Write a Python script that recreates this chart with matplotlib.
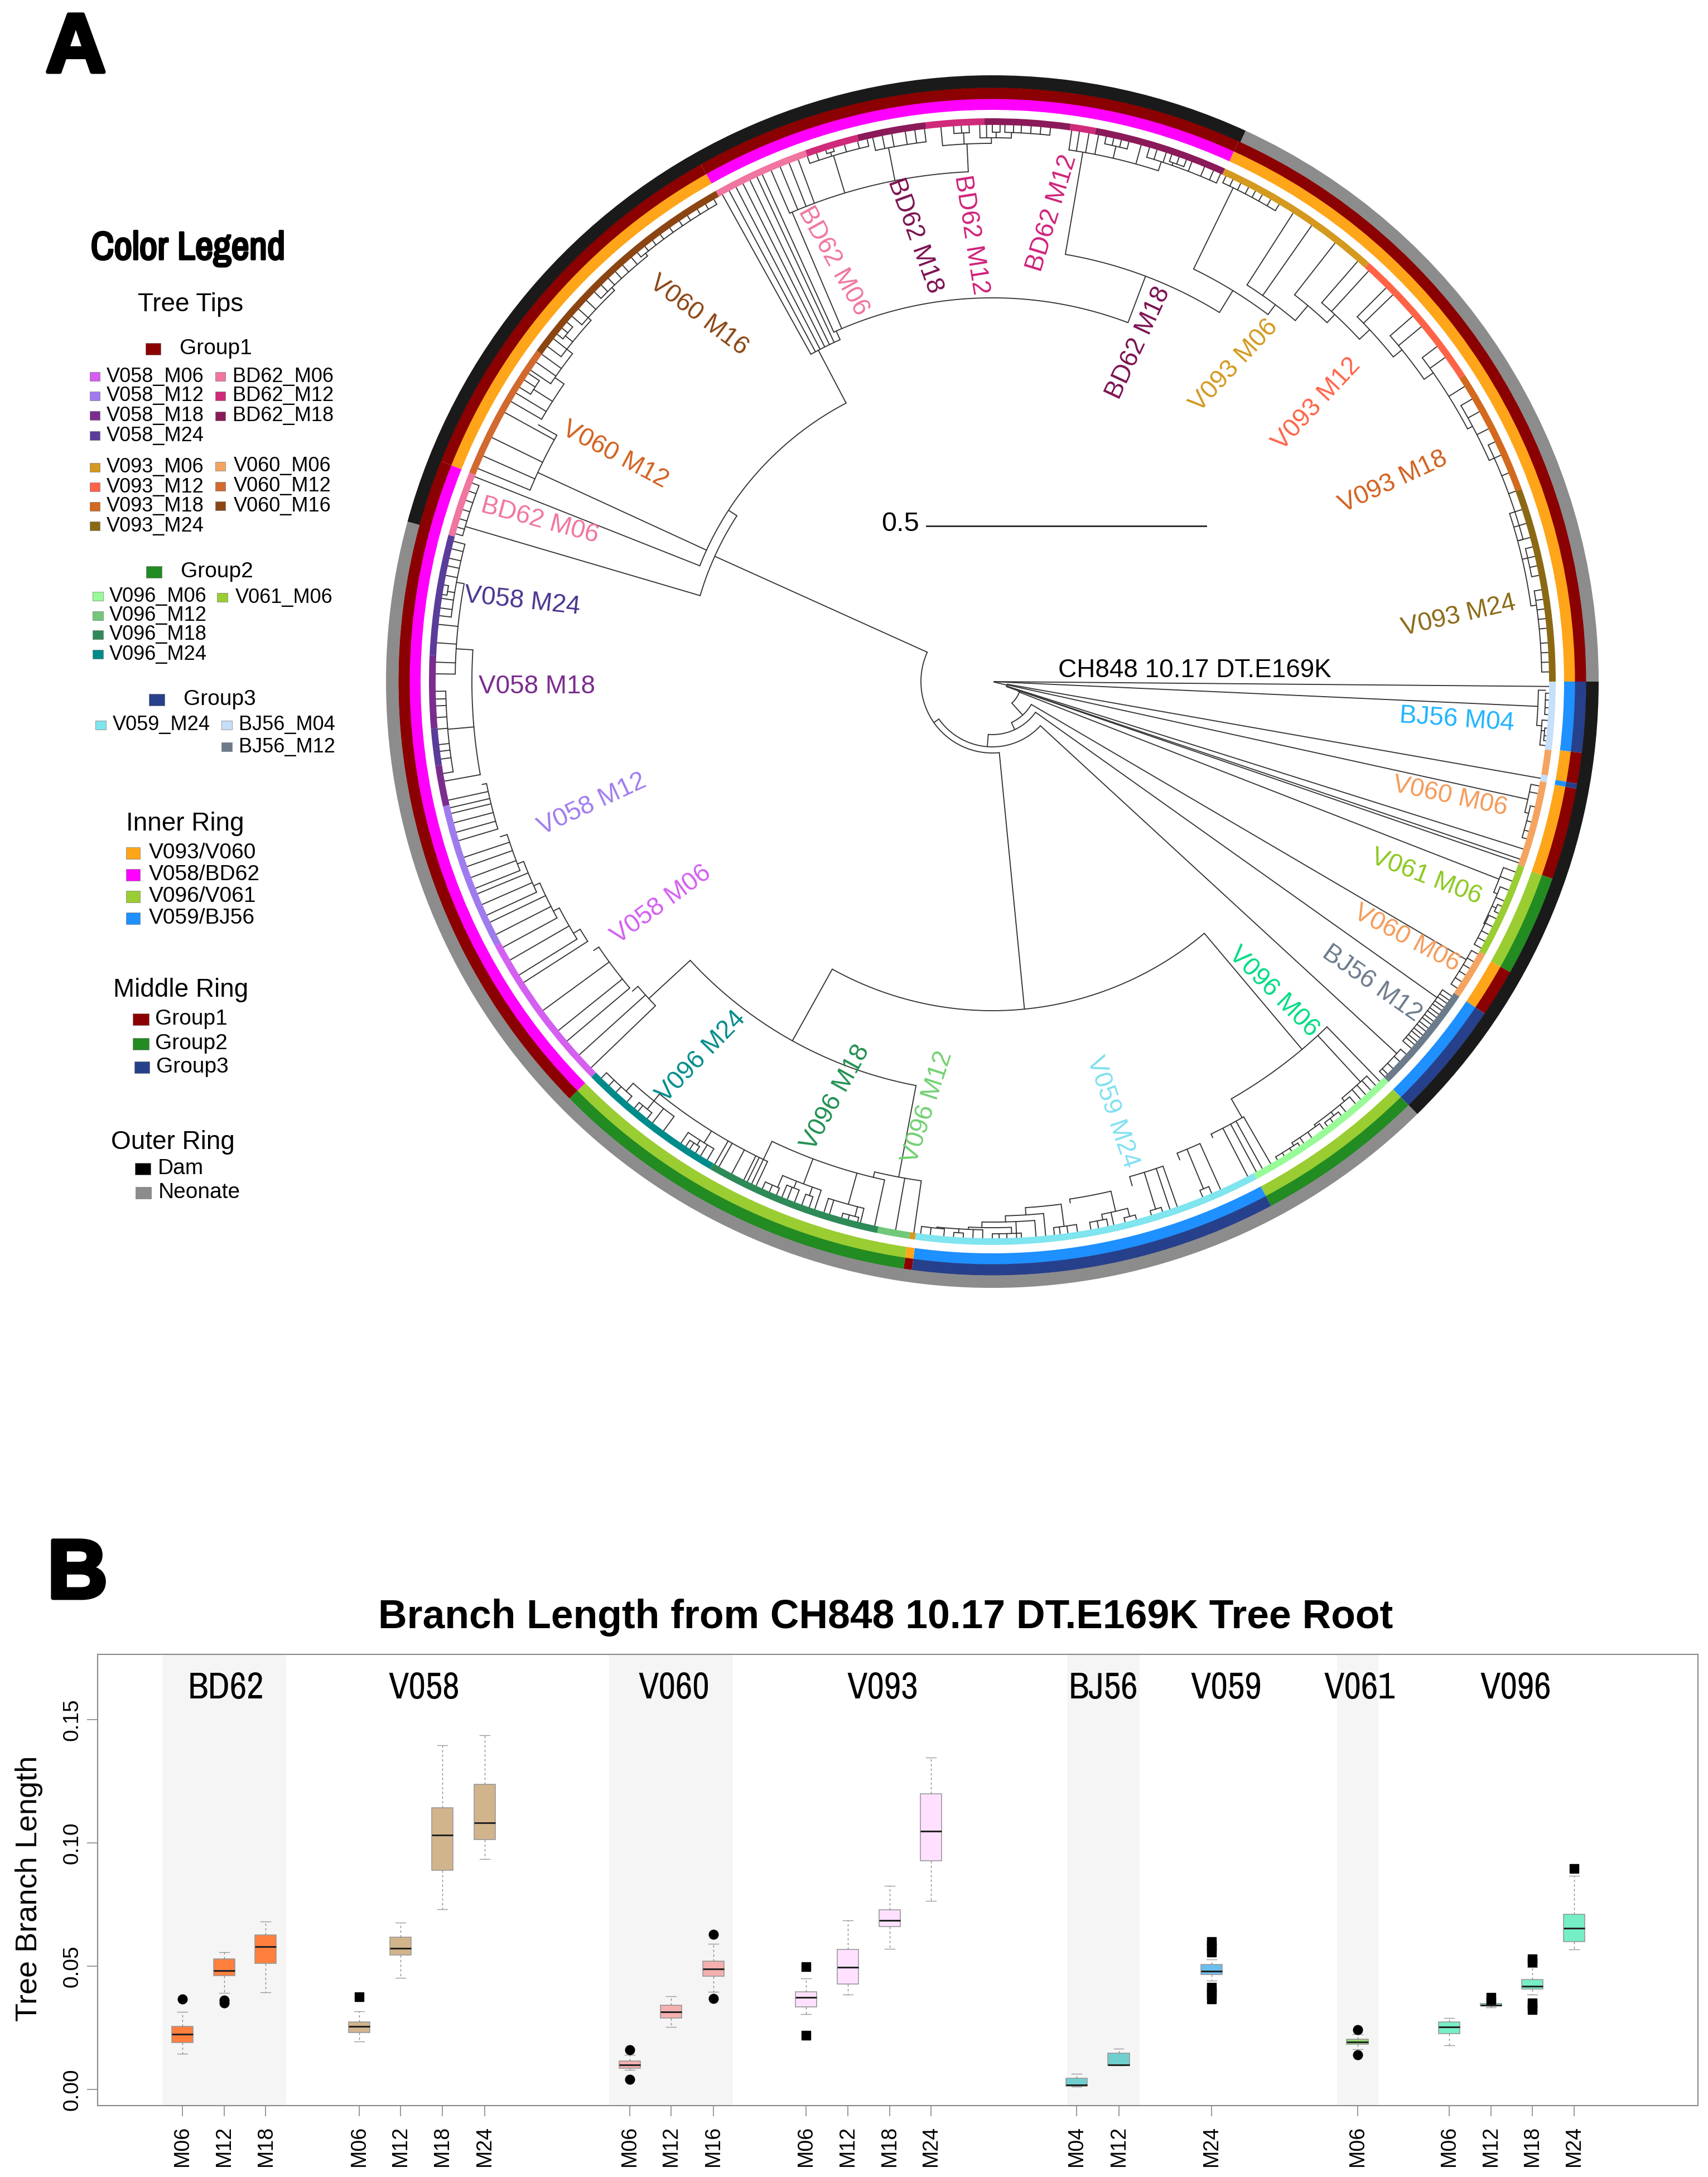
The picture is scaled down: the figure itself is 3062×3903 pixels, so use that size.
import numpy as np
import matplotlib
matplotlib.use('Agg')
import matplotlib.pyplot as plt
from matplotlib import font_manager
from matplotlib.patches import Rectangle
import matplotlib.patheffects as pe

plt.rcParams['font.family'] = ['Liberation Sans', 'DejaVu Sans']

# condensed face for the panel headers when one is installed
narrow_names = sorted({f.name for f in font_manager.fontManager.ttflist
                       if 'Narrow' in f.name or 'Condensed' in f.name})
if narrow_names:
    NARROW = [narrow_names[0], 'Liberation Sans']
    GROUP_SIZE, HEAD_SIZE = 48, 51
else:
    NARROW = ['Liberation Sans', 'DejaVu Sans']
    GROUP_SIZE, HEAD_SIZE = 40, 40

# ---- ring sectors, angles clockwise from east (deg) ----
inner_edges = [0, 6.9, 9.9, 10.4, 19.4, 29.3, 34.0, 45.5, 62.0, 97.8, 98.6, 135.4, 201.8, 240.6, 294.5, 360]
inner_colors = ['#1E90FF', '#FFA519', '#1E90FF', '#FFA519', '#9ACD32', '#FFA519', '#1E90FF', '#9ACD32',
                '#1E90FF', '#FFA519', '#9ACD32', '#FF00FF', '#FFA519', '#FF00FF', '#FFA519']
middle_colors = ['#27408B', '#8B0000', '#27408B', '#8B0000', '#228B22', '#8B0000', '#27408B', '#228B22',
                 '#27408B', '#8B0000', '#228B22', '#8B0000', '#8B0000', '#8B0000', '#8B0000']
outer_edges = [0, 45.5, 195.3, 294.7, 360]
outer_colors = ['#1A1A1A', '#8C8C8C', '#1A1A1A', '#8C8C8C']
tip_edges = [0, 7.0, 9.6, 10.3, 19.2, 29.0, 34.0, 45.3, 62.0, 97.9, 98.5, 101.8, 120.1, 135.4, 152, 167.2,
             171.4, 175.2, 182.7, 195.1, 201.8, 216, 240.6, 250.6, 256.1, 263.2, 269.2, 278, 280.6, 294.4,
             312, 327, 340, 360]
tip_colors = ['#C6DFFA', '#F4A460', '#C6DFFA', '#F4A460', '#9ACD32', '#F4A460', '#6C7B8B', '#98FB98',
              '#7FE5EE', '#D4991E', '#70C878', '#2E8B57', '#008B8B', '#D45FF0', '#A07BEE', '#7B2D8E',
              '#5A3D9A', '#7B2D8E', '#5A3D9A', '#F075A0', '#D2692F', '#8B4513', '#F075A0', '#D02A7A',
              '#8B1A5A', '#D02A7A', '#8B1A5A', '#D02A7A', '#8B1A5A', '#D4991E', '#FF6347', '#D2691E',
              '#8B6914']

# ---- tree: (node depth, [(child angle, child depth), ...]), 1000 depth = 1 subst/site ----
T = 1000
tree = [
    (3, [(0.5, T), (2.6, 979), (13.7, 27)]),
    (27, [(10, T), (12.4, 983), (17.5, T), (18.6, T), (19.5, 49)]),
    (49, [(19, T), (20.5, 52)]),
    (52, [(21.3, 975), (47.8, 81)]),
    (81, [(30.4, 985), (65, 95)]),
    (95, [(35.4, 978), (94.4, 117)]),
    (117, [(42.6, 985), (145, 128)]),
    (128, [(84.4, 590), (204.3, 546)]),
    (979, [(0.9, 992), (4.6, 988)]),
    (992, [(1.2, T), (1.9, T), (2.7, T), (3.4, T)]),
    (988, [(4.0, T), (5.1, 994), (6.6, T)]),
    (994, [(4.8, T), (5.6, T), (6.1, T)]),
    (983, [(10.8, T), (11.6, T), (13.8, 990)]),
    (990, [(13.0, T), (14.6, T), (15.6, T), (16.4, T)]),
    (975, [(20.0, T), (21, T), (22.8, 982)]),
    (982, [(22.0, T), (23.2, T), (24.2, 990), (26.2, 984)]),
    (990, [(23.8, T), (24.6, T)]),
    (984, [(25.2, T), (26.1, T), (27, T), (27.8, T), (28.6, T)]),
    (985, [(29.3, T), (30.2, T), (31, T), (31.8, T), (32.6, T), (33.4, T)]),
    (978, [(34.4, T), (34.9, T), (35.3, T), (35.8, T), (36.2, T), (36.7, T), (37.1, T), (37.6, T),
           (38.0, T), (38.5, T), (38.9, T), (39.4, T), (39.8, T), (40.3, T), (40.7, T), (41.2, T)]),
    (985, [(42, T), (43, T), (44, T), (44.8, T), (45.2, T)]),
    (590, [(49.9, 862), (119.1, 737)]),
    (862, [(45.9, T), (47.4, 975), (60.2, 901)]),
    (975, [(46.5, T), (47.2, T), (47.9, T), (48.6, T), (50, 982)]),
    (982, [(49.3, T), (50.6, T), (51.8, 990), (54, 986)]),
    (990, [(51.2, T), (52.3, T), (53, T)]),
    (986, [(53.5, T), (55, T), (56, T), (57, 992)]),
    (992, [(56.5, T), (57.5, T), (58.4, T), (59.2, T)]),
    (901, [(60.0, T), (61, T), (61.7, T), (62.7, T), (64.2, 908)]),
    (908, [(65.8, T), (67.4, 985), (68.6, 921)]),
    (985, [(66.8, T), (67.8, T)]),
    (921, [(70.6, T), (71.4, T), (72.8, 990), (74.5, 938)]),
    (990, [(72.2, T), (73.4, T)]),
    (938, [(76.9, 975), (81.5, 945)]),
    (975, [(75.6, 990), (77.4, T), (78.4, 985)]),
    (990, [(75, T), (76.2, T)]),
    (985, [(78, T), (79, T), (79.8, T)]),
    (945, [(82.5, 985), (86.4, 958)]),
    (985, [(81.2, T), (82.2, T), (83, T), (83.6, T)]),
    (958, [(84.5, T), (88.6, 969)]),
    (969, [(85.5, T), (87.5, T), (91.1, 979)]),
    (979, [(88, 990), (92.5, 983)]),
    (990, [(87, T), (88.5, T), (89.3, T), (90, T)]),
    (983, [(91, T), (92, T), (93.5, 990), (95.8, 985)]),
    (990, [(93, T), (94, T)]),
    (985, [(95, T), (96.4, T), (97.4, T)]),
    (737, [(100.7, 904), (137.3, 838)]),
    (904, [(98.1, T), (100, T), (103.5, 914)]),
    (914, [(102.2, T), (105.4, 972), (110.6, 962), (115.6, 950)]),
    (962, [(108.6, T), (109.6, 978), (111.4, 975), (113, 985)]),
    (978, [(109.2, T), (110, T)]),
    (975, [(110.8, T), (111.6, T), (112.2, T)]),
    (985, [(112.8, T), (113.6, T), (114.4, T)]),
    (972, [(103.7, T), (104.4, 990), (107, T), (107.6, T)]),
    (990, [(104, T), (105, T), (105.7, T)]),
    (950, [(115.1, T), (115.6, T), (116.1, T), (116.5, T), (117.9, T), (119.4, T), (119.9, T), (122, 975), (128.9, 966)]),
    (975, [(120.8, T), (121.6, T), (122.5, 985), (124, T)]),
    (985, [(122.2, T), (122.9, T), (123.4, T)]),
    (966, [(126.2, T), (127.6, T), (128.9, 985), (131.8, 985)]),
    (985, [(128.3, T), (129.5, T), (130, T)]),
    (985, [(131, T), (132.5, T), (133.5, T), (134.6, T)]),
    (838, [(136.1, T), (137.9, T), (139.3, 851)]),
    (851, [(139.8, T), (141.2, T), (143.8, T), (146, 862)]),
    (862, [(147.3, T), (149, 876)]),
    (876, [(148.2, T), (150, T), (152.4, 888)]),
    (888, [(151.5, T), (153, T), (154.4, T), (156, 900)]),
    (900, [(155.2, T), (156.4, T), (157.6, T), (159, 912)]),
    (912, [(158.2, T), (159.4, T), (160.6, T), (161.6, T), (162.5, 925)]),
    (925, [(163.4, T), (164.3, T), (165.3, T), (166.3, T), (166.9, T), (167.7, T), (168.6, 933)]),
    (933, [(169.7, T), (175, 980), (183.5, 963)]),
    (980, [(170.5, T), (172, T), (172.8, T), (173.5, T), (175.1, T), (176.3, T), (177.5, T), (178.2, T), (179, T)]),
    (963, [(180.8, T), (182, T), (184, T), (185.9, T), (190.5, 977)]),
    (977, [(186.8, T), (187.6, T), (188.6, T), (189.4, 990), (191, T), (192, T), (192.8, T), (193.8, T), (194.6, T)]),
    (990, [(189, T), (190, T)]),
    (546, [(196.4, 985), (213, 564)]),
    (985, [(195.4, T), (196.1, T), (197, T), (198, T), (199, T), (200, T), (200.9, T)]),
    (564, [(201.6, T), (204.7, 897), (242.3, 671)]),
    (897, [(202.5, T), (203.9, T), (206, T), (208.9, T), (209.5, 935)]),
    (935, [(210.2, T), (211.2, T), (212.5, 975), (214.8, 955)]),
    (975, [(211.9, T), (212.8, T), (213.6, T)]),
    (955, [(214, T), (215, T), (216, T), (218, 968)]),
    (968, [(217, T), (218, T), (219, 985), (222, 975)]),
    (985, [(218.6, T), (219.4, T), (220.2, T)]),
    (975, [(221, T), (222, T), (223.2, T), (226, 982)]),
    (982, [(224.4, T), (225.4, T), (226.4, T), (227.4, T), (228.4, T), (229.6, T), (231, 988)]),
    (988, [(230.4, T), (231.4, T), (232.4, T), (233.4, T), (234.6, T), (235.8, T), (236.8, T), (238, T), (239, T), (240, T)]),
    (671, [(241, T), (241.8, T), (242.6, T), (243.4, T), (244.2, T), (245, T), (246, 688)]),
    (688, [(245.6, T), (246.9, 915), (290.7, 777)]),
    (915, [(246.6, T), (247.6, T), (248.6, T), (249.6, T), (253.2, 985), (259, 975), (267.3, 965)]),
    (985, [(250.6, T), (251.6, T), (253, 992), (254.6, T), (256, T), (257, T)]),
    (992, [(252.6, T), (253.4, T)]),
    (975, [(257.6, T), (258.6, T), (259.6, T), (261, T), (262, T), (263, T)]),
    (965, [(264.7, T), (267, 985), (269.9, 975)]),
    (985, [(266, T), (266.8, T), (267.6, T)]),
    (975, [(268.7, T), (269.4, T), (270.4, 985), (272, 985)]),
    (985, [(270, T), (270.8, T)]),
    (985, [(271.3, T), (272.2, T), (273, T), (274, T), (275, T), (276, T)]),
    (777, [(279.7, 963), (301.6, 823)]),
    (963, [(278.2, T), (279, T), (280, T), (281, T), (283, 985), (285.5, T), (288, 980)]),
    (985, [(281.8, T), (282.6, T), (283.4, T), (284.2, T)]),
    (980, [(286.4, T), (287.2, T), (288.2, T), (289.2, 985), (291, T), (292.4, T), (293.4, T), (294.2, T)]),
    (985, [(288.8, T), (289.6, T), (290.4, T)]),
    (823, [(296, 985), (306.9, 845)]),
    (985, [(294.8, T), (295.6, T), (296.5, T), (297.4, T), (298.2, T), (299, T), (300, T), (301, T)]),
    (845, [(302.7, T), (305, T), (310, 880)]),
    (880, [(308, T), (313, 900)]),
    (900, [(311, T), (312.5, T), (317, 925)]),
    (925, [(315, T), (316, T), (321, 945)]),
    (945, [(319, T), (320.4, T), (325, 965)]),
    (965, [(323, T), (324.4, T), (328, T), (332, 975)]),
    (975, [(329.5, T), (331, T), (333, T), (336, 985)]),
    (985, [(334.5, T), (336, T), (338, T), (340, T), (345, 975)]),
    (975, [(342, T), (343.5, T), (345, T), (347, 985), (352, 985)]),
    (985, [(346, T), (347, T), (348, T), (349, T)]),
    (985, [(350.5, T), (351.5, T), (352.5, T), (353.5, T), (354.5, T), (356, T), (357, T), (358, T), (359, T)]),
]

# ---- labels on the tree ----
tree_labels = ['BD62 M06', 'BD62 M18', 'BD62 M12', 'BD62 M12', 'BD62 M18', 'V093 M06', 'V093 M12', 'V093 M18',
               'V093 M24', 'BJ56 M04', 'V060 M06', 'V061 M06', 'V060 M06', 'BJ56 M12', 'V096 M06', 'V059 M24',
               'V096 M12', 'V096 M18', 'V096 M24', 'V058 M06', 'V058 M12', 'V058 M18', 'V058 M24', 'BD62 M06',
               'V060 M12', 'V060 M16']
tree_label_colors = ['#F075A0', '#7A1050', '#D0207A', '#D0207A', '#7A1050', '#D4991E', '#FF6347', '#D2601E',
                     '#8B6914', '#1EB4FF', '#F49B5A', '#8CC820', '#F49B5A', '#6C7B8B', '#00DC82', '#80E0F0',
                     '#70D070', '#1F8F50', '#008B8B', '#D45FF0', '#A07BEE', '#7B2D8E', '#4B3390', '#F075A0',
                     '#D2601E', '#8B4513']
tree_label_x = [1494, 1640, 1741, 1886, 2041, 2212, 2360, 2498, 2615, 2612, 2600, 2557, 2522, 2459, 2283, 1994,
                1663, 1498, 1257, 1185, 1062, 963, 936, 968, 1103, 1253]
tree_label_y = [468, 423, 421, 382, 615, 655, 724, 864, 1104, 1290, 1428, 1572, 1682, 1763, 1778, 1994,
                1985, 1968, 1895, 1622, 1442, 1231, 1078, 933, 815, 565]
tree_label_rot = [-61, -70, -81, 73, 65, 47, 47, 25, 13, -4, -12, -21, -28, -35, -45, -71,
                  72, 61, 46, 36, 25, 0, -6, -15, -28, -37]

# ---- legend entries: label, colour, swatch x0, x1, y centre, text x ----
legend_heads = ['Tree Tips', 'Inner Ring', 'Middle Ring', 'Outer Ring']
legend_head_x = [342, 332, 324, 310]
legend_head_y = [546, 1477, 1775, 2048]
big_swatches = [('Group1', '#8B0000', 261, 288, 625, 322), ('Group2', '#228B22', 262, 290, 1025, 324),
                ('Group3', '#27408B', 267, 295, 1254, 329),
                ('Group1', '#8B0000', 238, 267, 1827, 278), ('Group2', '#228B22', 238, 267, 1871, 278),
                ('Group3', '#27408B', 241, 268, 1913, 280),
                ('Dam', '#000000', 242, 270, 2095, 283), ('Neonate', '#8C8C8C', 243, 271, 2138, 284),
                ('V093/V060', '#FFA519', 226, 251, 1529, 267), ('V058/BD62', '#FF00FF', 226, 251, 1568, 267),
                ('V096/V061', '#9ACD32', 226, 251, 1607, 267), ('V059/BJ56', '#1E90FF', 226, 251, 1646, 267)]
small_swatches = [('V058_M06', '#D45FF0', 161, 179, 675, 191), ('V058_M12', '#A07BEE', 161, 179, 710, 191),
                  ('V058_M18', '#7B2D8E', 161, 179, 745, 191), ('V058_M24', '#5A3D9A', 161, 179, 781, 191),
                  ('BD62_M06', '#F075A0', 386, 404, 675, 417), ('BD62_M12', '#D02A7A', 386, 404, 710, 417),
                  ('BD62_M18', '#8B1A5A', 386, 404, 746, 417),
                  ('V093_M06', '#D4991E', 161, 179, 838, 191), ('V093_M12', '#FF6347', 161, 179, 873, 191),
                  ('V093_M18', '#D2691E', 161, 179, 908, 191), ('V093_M24', '#8B6914', 161, 179, 943, 191),
                  ('V060_M06', '#F4A460', 386, 404, 836, 419), ('V060_M12', '#D2692F', 386, 404, 872, 419),
                  ('V060_M16', '#8B4513', 386, 404, 907, 419),
                  ('V096_M06', '#98FB98', 166, 185, 1069, 196), ('V096_M12', '#70C878', 166, 185, 1104, 196),
                  ('V096_M18', '#2E8B57', 166, 185, 1138, 196), ('V096_M24', '#008B8B', 166, 185, 1173, 196),
                  ('V061_M06', '#9ACD32', 389, 408, 1071, 422),
                  ('V059_M24', '#7FE5EE', 171, 190, 1300, 202), ('BJ56_M04', '#C6DFFA', 397, 416, 1300, 428),
                  ('BJ56_M12', '#6C7B8B', 397, 416, 1339, 428)]

# ---- panel B values ----
box_months = ['M06', 'M12', 'M18', 'M06', 'M12', 'M18', 'M24', 'M06', 'M12', 'M16', 'M06', 'M12', 'M18', 'M24',
              'M04', 'M12', 'M24', 'M06', 'M06', 'M12', 'M18', 'M24']
box_x = [0, 1, 2, 4.24, 5.23, 6.24, 7.25, 10.74, 11.73, 12.74, 14.97, 15.97, 16.97, 17.96,
         21.46, 22.47, 24.7, 28.2, 30.4, 31.4, 32.4, 33.4]
whislo = [.0145, .039, .0394, .0195, .0453, .0731, .0934, .0078, .0252, .0395, .0306, .0384, .0570, .0765,
          .0010, .0096, .0440, .0162, .0179, .0332, .0385, .0567]
q1 = [.0190, .0461, .0511, .0231, .0544, .0889, .1013, .0085, .0289, .0458, .0334, .0428, .0661, .0926,
      .0014, .0096, .0465, .0182, .0226, .0339, .0406, .0600]
med = [.0223, .0482, .0578, .0255, .0573, .1032, .1080, .0099, .0315, .0489, .0373, .0495, .0684, .1046,
       .0018, .0099, .0480, .0193, .0253, .0341, .0417, .0654]
q3 = [.0255, .0528, .0626, .0273, .0618, .1141, .1237, .0114, .0341, .0519, .0395, .0567, .0729, .1199,
      .0045, .0146, .0506, .0204, .0273, .0347, .0445, .0709]
whishi = [.0315, .0557, .0680, .0317, .0676, .1396, .1437, .0140, .0377, .0590, .0449, .0684, .0826, .1346,
          .0062, .0165, .0526, .0223, .0289, .0350, .0495, .0867]
fliers = [[.0366], [.0350, .0362], [], [.0376], [], [], [], [.0161, .0041], [], [.0629, .0369],
          [.0498, .0219], [], [], [], [], [], [.0599, .0585, .0572, .0557, .0413, .0400, .0385, .0365],
          [.0241, .0139], [], [.0372, .0358], [.0530, .0516, .0351, .0337, .0323], [.0895]]
box_colors = ['#FF7F3F'] * 3 + ['#D2B48C'] * 4 + ['#F4AFAF'] * 3 + ['#FFE1FF'] * 4 + ['#6FCFCF'] * 2 + \
             ['#6CBEF0'] + ['#8FD870'] + ['#76EEC6'] * 4
flier_marks = ['o'] * 3 + ['s'] * 4 + ['o'] * 3 + ['s'] * 4 + ['s'] * 2 + ['s'] + ['o'] + ['s'] * 4
group_names = ['BD62', 'V058', 'V060', 'V093', 'BJ56', 'V059', 'V061', 'V096']
group_label_x = [1.05, 5.8, 11.8, 16.8, 22.1, 25.05, 28.25, 32.0]
shade_from = [-0.48, 10.24, 21.23, 27.71]
shade_to = [2.49, 13.21, 22.97, 28.70]

W, H = 3062, 3903
fig = plt.figure(figsize=(W / 100, H / 100), dpi=100, facecolor='white')

# panel A, polar axes centred on the tree root
CX, CY, RMAX = 1779, 1222, 1110
pol = fig.add_axes([(CX - RMAX) / W, 1 - (CY + RMAX) / H, 2 * RMAX / W, 2 * RMAX / H], projection='polar')
pol.set_theta_zero_location('E')
pol.set_theta_direction(-1)
pol.set_rlim(0, RMAX)
pol.axis('off')

LINE = '#333333'
for depth, kids in tree:
    angs = [k[0] for k in kids]
    th = np.radians(np.linspace(min(angs), max(angs), 60))
    pol.plot(th, np.full(th.shape, depth), color=LINE, lw=1.35, solid_capstyle='round', zorder=2)
    for a, d in kids:
        pol.plot(np.radians([a, a]), [depth, d], color=LINE, lw=1.35, solid_capstyle='round', zorder=2)


def ring(edges, colors, r0, r1):
    edges = np.radians(edges)
    pol.bar(edges[:-1], r1 - r0, width=np.diff(edges), bottom=r0, color=colors, align='edge', lw=0, zorder=3)


ring(tip_edges, tip_colors, 998, 1010)
ring(inner_edges, inner_colors, 1025, 1045)
ring(inner_edges, middle_colors, 1044.5, 1065)
ring(outer_edges, outer_colors, 1064.5, 1087)

# overlay in figure pixels for text and legend
ov = fig.add_axes([0, 0, 1, 1], facecolor='none')
ov.set_xlim(0, W)
ov.set_ylim(H, 0)
ov.axis('off')

for lab, col, x, y, rot in zip(tree_labels, tree_label_colors, tree_label_x, tree_label_y, tree_label_rot):
    ov.text(x, y, lab, color=col, fontsize=33, rotation=rot, ha='center', va='center', rotation_mode='anchor')
ov.text(2142, 1202, 'CH848 10.17 DT.E169K', fontsize=33, ha='center', va='center')
ov.plot([1661, 2162], [943, 943], color='#222222', lw=2)
ov.text(1614, 940, '0.5', fontsize=35, ha='center', va='center')

for txt, x, y in [('A', 136, 90), ('B', 139, 2826)]:
    t = ov.text(x, y, txt, fontsize=108, fontweight='bold', ha='center', va='center')
    t.set_path_effects([pe.withStroke(linewidth=5, foreground='black')])

head = ov.text(337, 446, 'Color Legend', family=NARROW, fontsize=HEAD_SIZE, fontweight='bold', ha='center', va='center')
head.set_path_effects([pe.withStroke(linewidth=2.5, foreground='black')])
for txt, x, y in zip(legend_heads, legend_head_x, legend_head_y):
    ov.text(x, y, txt, fontsize=33, ha='center', va='center')
for lab, col, x0, x1, y, tx in big_swatches:
    ov.add_patch(Rectangle((x0, y - 10.5), x1 - x0, 21, fc=col, ec='#777777', lw=0.5))
    ov.text(tx, y, lab, fontsize=28, ha='left', va='center')
for lab, col, x0, x1, y, tx in small_swatches:
    ov.add_patch(Rectangle((x0, y - 8), x1 - x0, 16, fc=col, ec='#777777', lw=0.5))
    ov.text(tx, y, lab, fontsize=26, ha='left', va='center')

# panel B
BX0, BX1, BY0, BY1 = 175, 3044, 2966, 3775
bx = fig.add_axes([BX0 / W, 1 - BY1 / H, (BX1 - BX0) / W, (BY1 - BY0) / H])
bx.set_xlim((BX0 - 327) / 74.7, (BX1 - 327) / 74.7)
bx.set_ylim(-0.0066, 0.1764)
for s0, s1 in zip(shade_from, shade_to):
    bx.axvspan(s0, s1, color='#F5F5F5', lw=0, zorder=0)
for i in range(len(box_x)):
    stat = dict(whislo=whislo[i], q1=q1[i], med=med[i], q3=q3[i], whishi=whishi[i], fliers=fliers[i])
    bx.bxp([stat], positions=[box_x[i]], widths=0.51, patch_artist=True, manage_ticks=False,
           boxprops=dict(facecolor=box_colors[i], edgecolor='#999999', lw=1.2),
           medianprops=dict(color='#222222', lw=2.2, solid_capstyle='butt'),
           whiskerprops=dict(color='#888888', lw=1, ls=(0, (3, 3))),
           capprops=dict(color='#999999', lw=1), capwidths=0.24,
           flierprops=dict(marker=flier_marks[i], mfc='black', mec='black', ms=12))
for name, x in zip(group_names, group_label_x):
    bx.text(x, 0.1625, name, family=NARROW, fontsize=GROUP_SIZE, ha='center', va='center')
bx.set_xticks(box_x)
bx.set_xticklabels(box_months, rotation=90, fontsize=27)
bx.set_yticks([0, 0.05, 0.10, 0.15])
bx.set_yticklabels(['0.00', '0.05', '0.10', '0.15'], rotation=90, va='center', fontsize=28)
bx.tick_params(axis='y', color='#888888', length=14, width=1.2, pad=6)
bx.tick_params(axis='x', color='#888888', length=14, width=1.2, pad=12)
for sp in bx.spines.values():
    sp.set_color('#888888')
    sp.set_linewidth(1.5)

ov.text(1588, 2900, 'Branch Length from CH848 10.17 DT.E169K Tree Root', fontsize=51.5, fontweight='bold',
        ha='center', va='center')
ov.text(52, 3386, 'Tree Branch Length', fontsize=39, rotation=90, ha='center', va='center')

fig.savefig('out.png', dpi=100)
